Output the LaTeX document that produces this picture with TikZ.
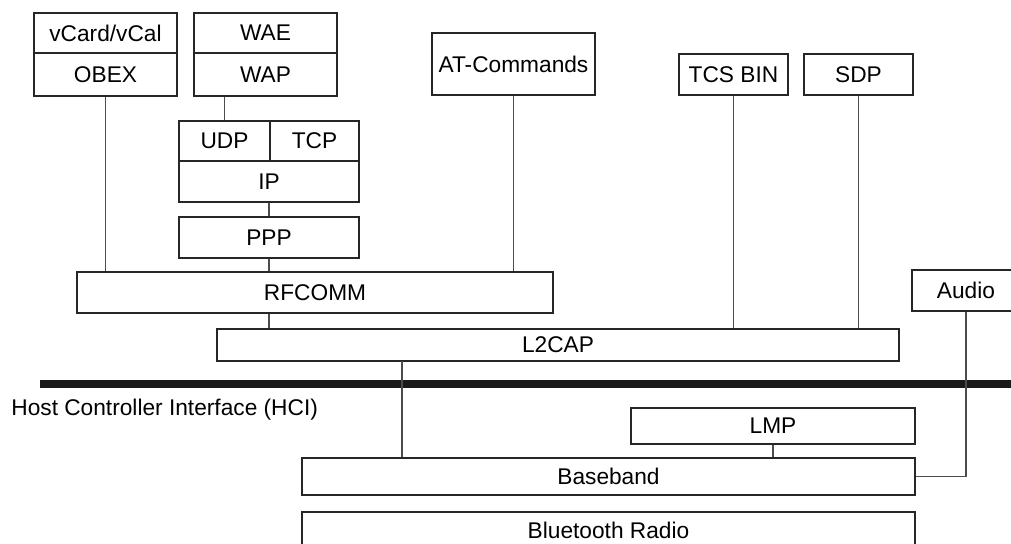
\documentclass[tikz,border=0pt]{standalone}
\usepackage{fontspec}
\setmainfont{Liberation Sans}
\begin{document}
\begin{tikzpicture}[x=0.5pt,y=-0.5pt,
  layer/.style 2 args={draw=black!85,line width=1.1pt,inner sep=0pt,
    minimum width=#1*0.5pt,minimum height=#2*0.5pt,
    font=\fontsize{11.35pt}{13pt}\selectfont},
  link/.style={draw=black!70,line width=0.95pt}]
\useasboundingbox (0,0) rectangle (1011,544);

\node[layer={143}{40}] (vcard) at (105.5,33) {vCard/vCal};
\node[layer={143}{43}] (obex) at (105.5,74.5) {OBEX};
\node[layer={143}{40}] (wae) at (265.5,33) {WAE};
\node[layer={143}{43}] (wap) at (265.5,74.5) {WAP};
\node[layer={91}{40}] (udp) at (224.5,141) {UDP};
\node[layer={89}{40}] (tcp) at (314.5,141) {TCP};
\node[layer={180}{41}] (ip) at (269,181.5) {IP};
\node[layer={180}{41}] (ppp) at (269,237.5) {PPP};
\node[layer={163}{62}] (at) at (513.5,64) {AT-Commands};
\node[layer={109}{41}] (tcs) at (733.5,74.5) {TCS BIN};
\node[layer={109}{41}] (sdp) at (858.5,74.5) {SDP};

\node[layer={476}{41}] (rfcomm) at (315,292.5) {RFCOMM};
\node[layer={108}{41}] (audio) at (966,290.5) {Audio};
\node[layer={682}{32}] (l2cap) at (558,345) {L2CAP};

\coordinate (barL) at (40,384);
\coordinate (barR) at (1015,384);
\draw[line width=4pt,black!90] (barL) -- (barR);
\node[anchor=west,inner sep=0pt,font=\fontsize{11.35pt}{13pt}\selectfont] (hci) at (11,410)
  {Host Controller Interface (HCI)};

\node[layer={284}{36}] (lmp) at (773,426) {LMP};
\node[layer={613}{37}] (baseband) at (608.5,476.5) {Baseband};
\node[layer={613}{37}] (radio) at (608.5,530.5) {Bluetooth Radio};

\foreach \a/\b in {obex/rfcomm,ppp/rfcomm,at/rfcomm,tcs/l2cap,sdp/l2cap,ip/ppp,lmp/baseband}
  \draw[link] (\a.south) -- (\a.south |- \b.north);
\draw[link] (udp.north) -- (udp.north |- wap.south);
\draw[link] (ppp.south |- rfcomm.south) -- (ppp.south |- l2cap.north);
\coordinate (hcilink) at (402,361);
\draw[link] (hcilink) -- (hcilink |- baseband.north);
\draw[link] (audio.south) |- (baseband.east);

\end{tikzpicture}
\end{document}
